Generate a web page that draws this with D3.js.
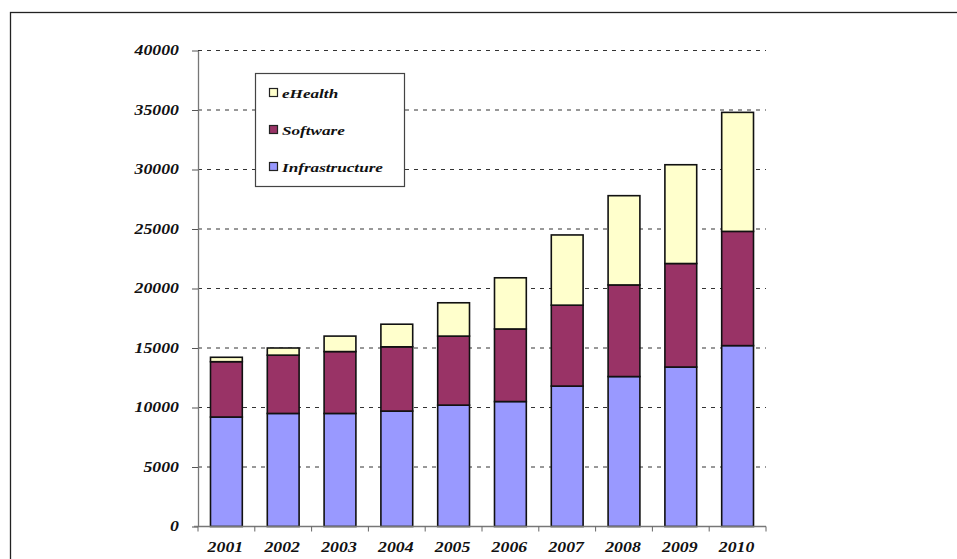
<!DOCTYPE html>
<html>
<head>
<meta charset="utf-8">
<script src="https://cdn.jsdelivr.net/npm/d3@7"></script>
<style>
  html, body { margin: 0; padding: 0; background: #fff; }
  svg { display: block; }
  text { font-family: "Liberation Serif", "Times New Roman", serif; font-weight: bold; font-style: italic; fill: #111; }
</style>
</head>
<body>
<svg id="chart" width="957" height="559"></svg>
<script>
// Market size by segment, 2001–2010
const years = ["2001","2002","2003","2004","2005","2006","2007","2008","2009","2010"];
const infrastructure = [9200, 9500, 9500, 9700, 10200, 10500, 11800, 12600, 13400, 15200];
const software       = [4650, 4900, 5200, 5400, 5800, 6100, 6800, 7700, 8700, 9600];
const eHealth        = [370, 600, 1300, 1900, 2800, 4300, 5900, 7500, 8300, 10000];
const seriesNames  = ["Infrastructure", "Software", "eHealth"];
const seriesColors = ["#9999FF", "#993366", "#FFFFCC"];
const yTicks = [0, 5000, 10000, 15000, 20000, 25000, 30000, 35000, 40000];

const svg = d3.select("#chart");
const TX = 1.27; // horizontal stretch applied to all lettering

// outer frame
svg.append("rect")
  .attr("x", 10.5).attr("y", 12.5).attr("width", 960).attr("height", 600)
  .attr("fill", "none").attr("stroke", "#222").attr("stroke-width", 1.3);

const x0 = 198, x1 = 766, yTop = 50.5, yBot = 526.5;

const x = d3.scaleBand().domain(years).range([x0, x1])
  .paddingInner(0.44).paddingOuter(0.22);
const y = d3.scaleLinear().domain([0, 40000]).range([yBot, yTop]);

// dashed gridlines
svg.append("g").selectAll("line")
  .data(yTicks.filter(d => d > 0))
  .join("line")
  .attr("x1", x0).attr("x2", x1)
  .attr("y1", d => y(d)).attr("y2", d => y(d))
  .attr("stroke", "#333").attr("stroke-width", 1)
  .attr("stroke-dasharray", "4,5");

// stacked bars
const rows = years.map((yr, i) => ({
  year: yr,
  Infrastructure: infrastructure[i],
  Software: software[i],
  eHealth: eHealth[i]
}));
const stack = d3.stack().keys(seriesNames)(rows);

svg.append("g").selectAll("g")
  .data(stack)
  .join("g")
  .attr("fill", (d, i) => seriesColors[i])
  .selectAll("rect")
  .data(d => d)
  .join("rect")
  .attr("x", d => x(d.data.year))
  .attr("width", x.bandwidth())
  .attr("y", d => y(d[1]))
  .attr("height", d => y(d[0]) - y(d[1]))
  .attr("stroke", "#111").attr("stroke-width", 1.6);

// y axis
const yAxis = svg.append("g")
  .attr("transform", `translate(${x0},0)`)
  .call(d3.axisLeft(y).tickValues(yTicks).tickFormat(d3.format("d")).tickSize(6).tickSizeOuter(0));
yAxis.select(".domain").attr("stroke", "#777").attr("stroke-width", 1.3);
yAxis.selectAll(".tick line").attr("stroke", "#555");
yAxis.selectAll(".tick text")
  .attr("x", -19 / TX)
  .attr("transform", `scale(${TX},1)`)
  .style("font-size", "14px");

// x axis with ticks at category boundaries
const xAxisG = svg.append("g").attr("transform", `translate(0,${yBot})`);
xAxisG.append("line")
  .attr("x1", x0 - 4).attr("x2", x1)
  .attr("stroke", "#777").attr("stroke-width", 1.3);
const step = x.step();
xAxisG.selectAll("line.bound")
  .data(d3.range(years.length + 1))
  .join("line").attr("class", "bound")
  .attr("x1", i => x0 + i * step).attr("x2", i => x0 + i * step)
  .attr("y1", 0).attr("y2", 5)
  .attr("stroke", "#666").attr("stroke-width", 1);
xAxisG.selectAll("text")
  .data(years)
  .join("text")
  .attr("transform", d => `translate(${x(d) + x.bandwidth() / 2 - 1},25) scale(${TX},1)`)
  .attr("text-anchor", "middle")
  .style("font-size", "14px")
  .text(d => d);

// legend
const lg = svg.append("g");
lg.append("rect")
  .attr("x", 255.5).attr("y", 73.5).attr("width", 149).attr("height", 113)
  .attr("fill", "#fff").attr("stroke", "#444").attr("stroke-width", 1.2);
const legendOrder = ["eHealth", "Software", "Infrastructure"];
legendOrder.forEach((name, i) => {
  const cy = 93 + i * 37;
  const idx = seriesNames.indexOf(name);
  lg.append("rect")
    .attr("x", 269.5).attr("y", cy - 4.5).attr("width", 8).attr("height", 8)
    .attr("fill", seriesColors[idx]).attr("stroke", "#222").attr("stroke-width", 1.2);
  lg.append("text")
    .attr("transform", `translate(282,${cy + 5}) scale(${TX},1)`)
    .style("font-size", "13.5px")
    .text(name);
});
</script>
</body>
</html>
